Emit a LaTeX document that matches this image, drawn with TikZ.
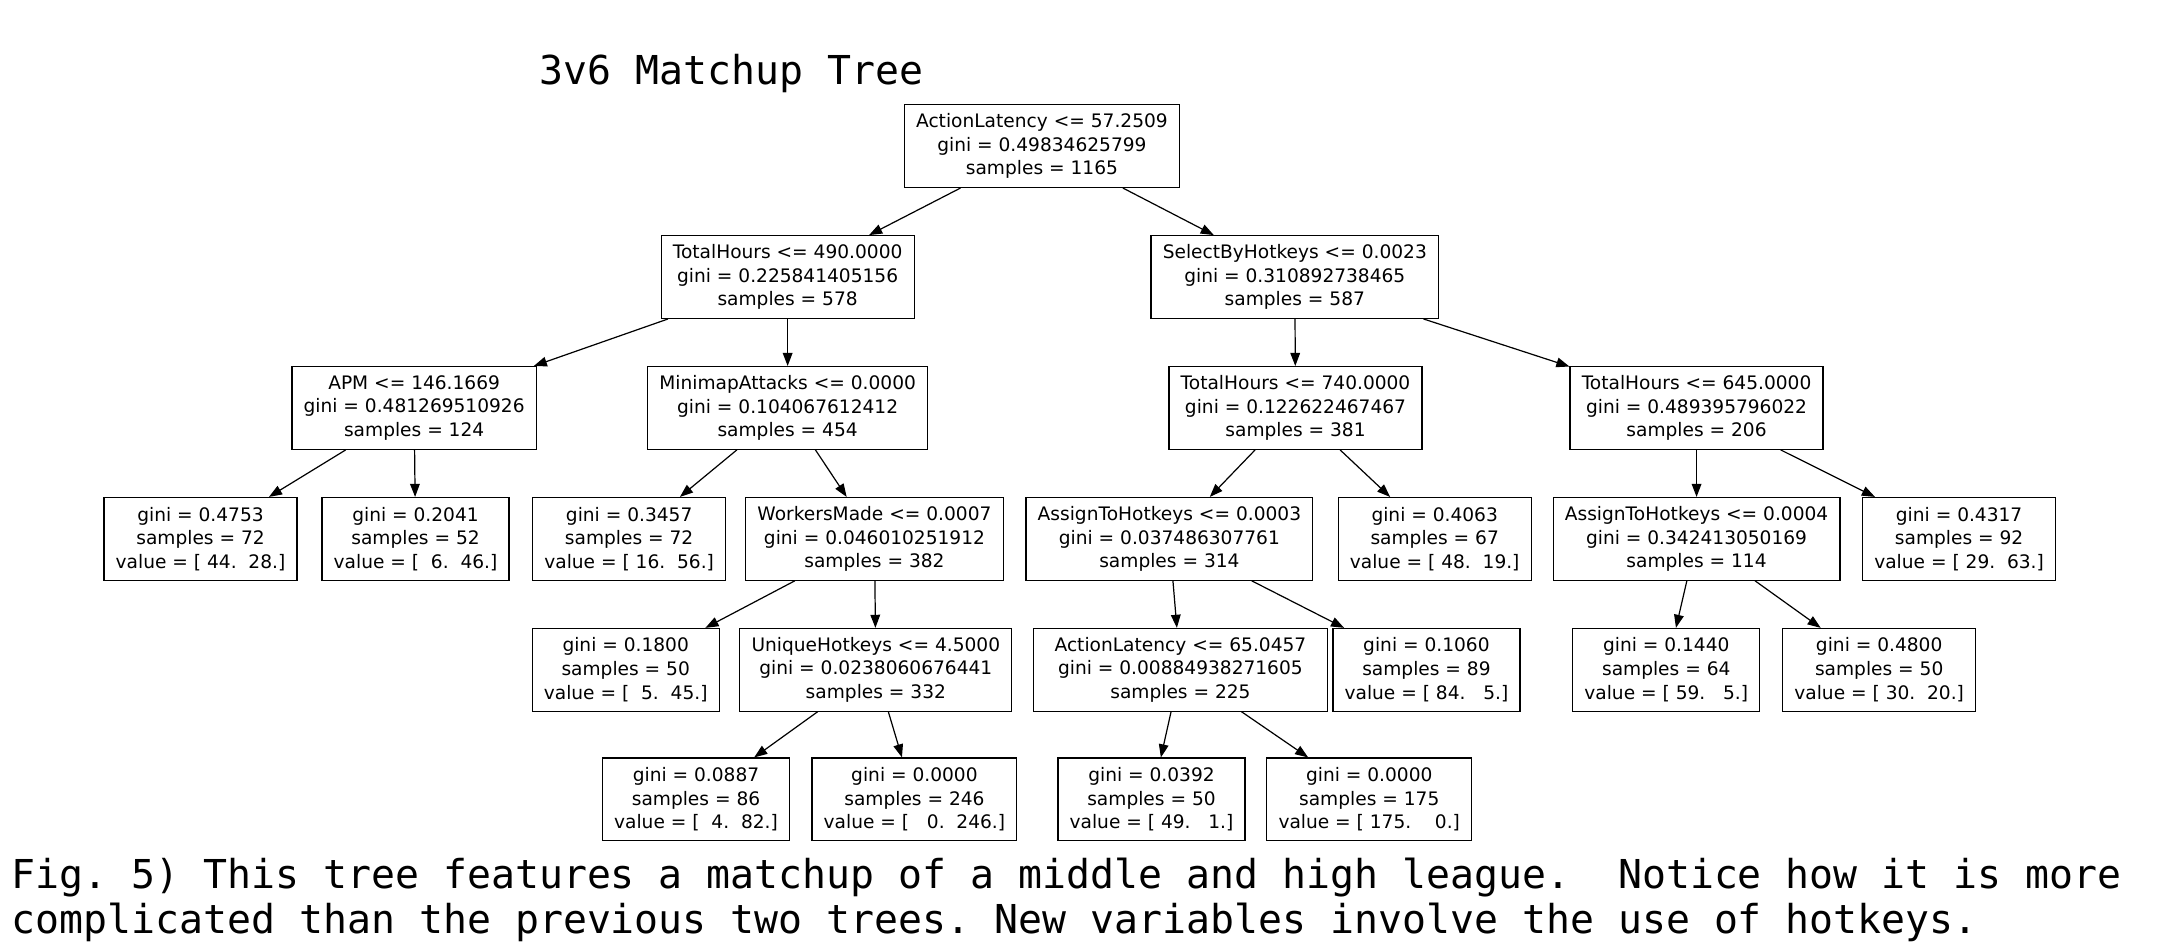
\documentclass[tikz,border=0pt]{standalone}
\usepackage{fontspec}
\setmainfont{DejaVu Sans}
\setmonofont{DejaVu Sans Mono}
\usetikzlibrary{arrows.meta}
\newcommand{\treefont}{\fontsize{7.68}{9.79}\selectfont}
\newcommand{\capfont}{\ttfamily\fontsize{16.45}{18.2}\selectfont}
\frenchspacing
\begin{document}
\begin{tikzpicture}[x=0.02cm, y=-0.02cm,
    tnode/.style={draw, line width=0.5pt, align=center, minimum height=1.2cm,
        inner xsep=0.17cm, inner ysep=0pt, font=\treefont},
    link/.style={-{Triangle[length=0.19cm,width=0.14cm]}, line width=0.5pt}]
    \useasboundingbox (0,0) rectangle (1568,687);

    % title and caption
    \node[anchor=base west, inner sep=0pt, font=\capfont] (title) at (391,61) {3v6 Matchup Tree};
    \node[anchor=base west, inner sep=0pt, align=left, font=\capfont] (caption) at (8,677)
        {Fig. 5) This tree features a matchup of a middle and high league.~ Notice how it is more\\
         complicated than the previous two trees. New variables involve the use of hotkeys.};

    % splits
    \node[tnode] (root) at (756,106) {ActionLatency <= 57.2509\\gini = 0.49834625799\\samples = 1165};
    \node[tnode] (th490) at (571.5,201) {TotalHours <= 490.0000\\gini = 0.225841405156\\samples = 578};
    \node[tnode] (sbh) at (939.5,201) {SelectByHotkeys <= 0.0023\\gini = 0.310892738465\\samples = 587};
    \node[tnode] (apm) at (300.5,296) {APM <= 146.1669\\gini = 0.481269510926\\samples = 124};
    \node[tnode] (mma) at (571.5,296) {MinimapAttacks <= 0.0000\\gini = 0.104067612412\\samples = 454};
    \node[tnode] (th740) at (940,296) {TotalHours <= 740.0000\\gini = 0.122622467467\\samples = 381};
    \node[tnode] (th645) at (1231,296) {TotalHours <= 645.0000\\gini = 0.489395796022\\samples = 206};
    \node[tnode] (wm) at (634.5,391) {WorkersMade <= 0.0007\\gini = 0.046010251912\\samples = 382};
    \node[tnode] (ath3) at (848.5,391) {AssignToHotkeys <= 0.0003\\gini = 0.037486307761\\samples = 314};
    \node[tnode] (ath4) at (1231,391) {AssignToHotkeys <= 0.0004\\gini = 0.342413050169\\samples = 114};
    \node[tnode] (uh) at (635.5,486) {UniqueHotkeys <= 4.5000\\gini = 0.0238060676441\\samples = 332};
    \node[tnode, minimum width=4.26cm] (al65) at (856.5,486) {ActionLatency <= 65.0457\\gini = 0.00884938271605\\samples = 225};

    % leaves
    \node[tnode] (leafa) at (145.5,391) {gini = 0.4753\\samples = 72\\value = [ 44.~ 28.]};
    \node[tnode] (leafb) at (301.5,391) {gini = 0.2041\\samples = 52\\value = [~ 6.~ 46.]};
    \node[tnode] (leafc) at (456.5,391) {gini = 0.3457\\samples = 72\\value = [ 16.~ 56.]};
    \node[tnode] (leafd) at (1041,391) {gini = 0.4063\\samples = 67\\value = [ 48.~ 19.]};
    \node[tnode] (leafe) at (1421.5,391) {gini = 0.4317\\samples = 92\\value = [ 29.~ 63.]};
    \node[tnode] (leaff) at (454,486) {gini = 0.1800\\samples = 50\\value = [~ 5.~ 45.]};
    \node[tnode] (leafg) at (1035,486) {gini = 0.1060\\samples = 89\\value = [ 84.~~ 5.]};
    \node[tnode] (leafh) at (1209,486) {gini = 0.1440\\samples = 64\\value = [ 59.~~ 5.]};
    \node[tnode] (leafi) at (1363.5,486) {gini = 0.4800\\samples = 50\\value = [ 30.~ 20.]};
    \node[tnode] (leafj) at (505,580) {gini = 0.0887\\samples = 86\\value = [~ 4.~ 82.]};
    \node[tnode] (leafk) at (663.5,580) {gini = 0.0000\\samples = 246\\value = [~~ 0.~ 246.]};
    \node[tnode] (leafl) at (835.5,580) {gini = 0.0392\\samples = 50\\value = [ 49.~~ 1.]};
    \node[tnode] (leafm) at (993.5,580) {gini = 0.0000\\samples = 175\\value = [ 175.~~~ 0.]};

    % connectors
    \draw[link] (root) -- (th490);
    \draw[link] (root) -- (sbh);
    \draw[link] (th490) -- (apm);
    \draw[link] (th490) -- (mma);
    \draw[link] (sbh) -- (th740);
    \draw[link] (sbh) -- (th645);
    \draw[link] (apm) -- (leafa);
    \draw[link] (apm) -- (leafb);
    \draw[link] (mma) -- (leafc);
    \draw[link] (mma) -- (wm);
    \draw[link] (th740) -- (ath3);
    \draw[link] (th740) -- (leafd);
    \draw[link] (th645) -- (ath4);
    \draw[link] (th645) -- (leafe);
    \draw[link] (wm) -- (leaff);
    \draw[link] (wm) -- (uh);
    \draw[link] (ath3) -- (al65);
    \draw[link] (ath3) -- (leafg);
    \draw[link] (ath4) -- (leafh);
    \draw[link] (ath4) -- (leafi);
    \draw[link] (uh) -- (leafj);
    \draw[link] (uh) -- (leafk);
    \draw[link] (al65) -- (leafl);
    \draw[link] (al65) -- (leafm);
\end{tikzpicture}
\end{document}
